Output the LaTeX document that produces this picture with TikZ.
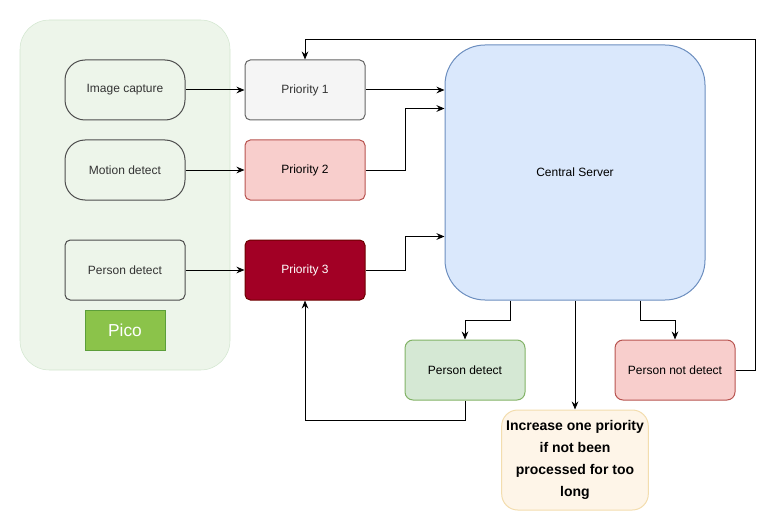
\documentclass[tikz,border=0pt]{standalone}
\usepackage{fontspec}
\setmainfont{Liberation Sans}
\usepackage{tikz}
\usetikzlibrary{shapes.geometric, arrows.meta, backgrounds, positioning}
\definecolor{picofill}{HTML}{EDF5EA}
\definecolor{picoline}{HTML}{D2E6CF}
\definecolor{stepline}{HTML}{4D4D4D}
\definecolor{steptext}{HTML}{333333}
\definecolor{picogreen}{HTML}{8BC34A}
\definecolor{picodark}{HTML}{5C9E3A}
\definecolor{greyfill}{HTML}{F5F5F5}
\definecolor{greyline}{HTML}{666666}
\definecolor{redfill}{HTML}{F8CECC}
\definecolor{redline}{HTML}{B85450}
\definecolor{darkred}{HTML}{A20025}
\definecolor{darkredline}{HTML}{6F0000}
\definecolor{bluefill}{HTML}{DAE8FC}
\definecolor{blueline}{HTML}{6C8EBF}
\definecolor{greenfill}{HTML}{D5E8D4}
\definecolor{greenline}{HTML}{82B366}
\definecolor{creamfill}{HTML}{FEF5E8}
\definecolor{creamline}{HTML}{F3DDAE}
\tikzstyle{device} = [rectangle, rounded corners=15pt, minimum width=90pt, minimum height=45pt, text centered, draw=stepline, text=steptext, font=\fontsize{9}{11}\selectfont]
\tikzstyle{priority} = [rectangle, rounded corners=4pt, minimum width=90pt, minimum height=45pt, text centered, font=\fontsize{9}{11}\selectfont]
\tikzstyle{result} = [rectangle, rounded corners=6pt, minimum width=90pt, minimum height=45pt, text centered, font=\fontsize{9}{11}\selectfont]
\tikzstyle{line} = [line width=0.75pt, -{Stealth[length=6pt,width=5pt]}]

\begin{document}
\begin{tikzpicture}[x=0.75pt, y=-0.75pt, node distance=60pt, line width=0.75pt]
                  \useasboundingbox (0,0) rectangle (784,531);
                  \node (imgcap) [device] at (125,90) {Image capture};
                  \node (motion) [device, below of=imgcap] {Motion detect};
                  \node (persondet) [device, rounded corners=4pt, below of=motion, yshift=-15pt] {Person detect};
                  \node (pico) [rectangle, draw=picodark, fill=picogreen, text=white, minimum width=60pt, minimum height=30pt, font=\fontsize{13}{15}\selectfont] at (125,330) {Pico};
                  \node (prio1) [priority, right of=imgcap, xshift=75pt, draw=greyline, fill=greyfill, text=steptext] {Priority 1};
                  \node (prio2) [priority, below of=prio1, draw=redline, fill=redfill] {Priority 2};
                  \node (prio3) [priority, below of=prio2, yshift=-15pt, draw=darkredline, fill=darkred, text=white] {Priority 3};
                  \node (server) [rectangle, rounded corners=30pt, minimum width=195pt, minimum height=191.25pt, draw=blueline, fill=bluefill, font=\fontsize{9}{11}\selectfont] at (575,172.5) {Central Server};
                  \node (goodperson) [result, draw=greenline, fill=greenfill] at (465,370) {Person detect};
                  \node (badperson) [result, draw=redline, fill=redfill] at (675,370) {Person not detect};
                  \node (increase) [result, rounded corners=12pt, minimum width=108.75pt, minimum height=75pt, align=center, draw=creamline, fill=creamfill, font=\bfseries\fontsize{10.5}{16.5}\selectfont] at (575,460) {Increase one priority\\if not been\\processed for too\\long};
                  \begin{scope}[on background layer]
                      \node (board) [rectangle, rounded corners=22pt, draw=picoline, fill=picofill, minimum width=157.5pt, minimum height=262.5pt] at (125,195) {};
                  \end{scope}

                  \draw [line] (imgcap) -- (prio1);
                  \draw [line] (motion) -- (prio2);
                  \draw [line] (persondet) -- (prio3);
                  \draw [line] (prio1) -- (prio1 -| server.west);
                  \draw [line] (prio2.east) -- ++(30pt,0) |- ([yshift=-48pt]server.north west);
                  \draw [line] (prio3.east) -- ++(30pt,0) |- ([yshift=48pt]server.south west);
                  \draw [line] ([xshift=-48.75pt]server.south) -- ++(0,-15pt) -| (goodperson.north);
                  \draw [line] (server.south) -- (increase.north);
                  \draw [line] ([xshift=48.75pt]server.south) -- ++(0,-15pt) -| (badperson.north);
                  \draw [line] (badperson.east) -- ++(15pt,0) |- ([yshift=15pt]prio1.north) -- (prio1.north);
                  \draw [line] (goodperson.south) -- ++(0,-15pt) -| (prio3.south);
              \end{tikzpicture}
\end{document}
